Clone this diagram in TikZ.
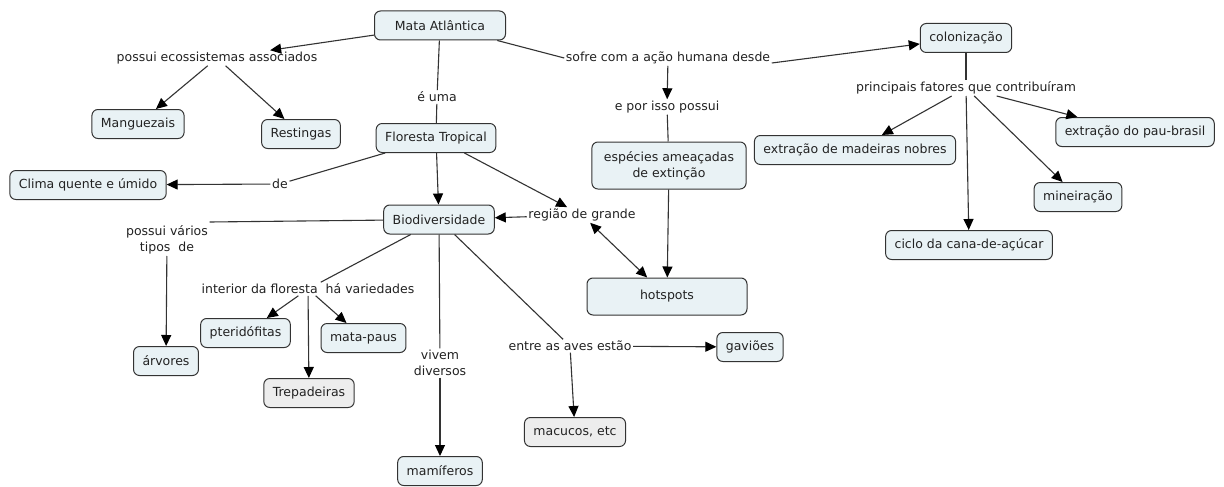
\documentclass[tikz,border=0pt]{standalone}
\usepackage{fontspec}
\setmainfont{DejaVu Sans}
\usetikzlibrary{arrows.meta}
\definecolor{conceito}{HTML}{E9F2F5}
\definecolor{cinza}{HTML}{EDEDED}
\definecolor{traco}{HTML}{333333}
\definecolor{letra}{HTML}{222222}
\tikzset{
  conc/.style={draw=traco,line width=1pt,rounded corners=6pt,fill=conceito,
    inner xsep=9pt,minimum height=29pt,align=center,text=letra,
    font=\fontsize{12.5}{16}\selectfont},
  frase/.style={inner sep=1.5pt,align=center,text=letra,
    font=\fontsize{12.5}{16}\selectfont},
  liga/.style={draw=traco,line width=1.1pt},
  seta/.style={liga,-{Triangle[length=11pt,width=10pt,color=black]}},
  dupla/.style={liga,{Triangle[length=11pt,width=10pt,color=black]}-{Triangle[length=11pt,width=10pt,color=black]}}
}
\begin{document}
\begin{tikzpicture}[x=1pt,y=-1pt]
\useasboundingbox[fill=white] (0,0) rectangle (1224,487);

\node[conc,minimum width=131pt] (mata) at (440,25.5) {Mata Atlântica};
\node[frase] (ecos) at (217,58) {possui ecossistemas associados};
\node[conc] (mang) at (138,124) {Manguezais};
\node[conc] (rest) at (301,134) {Restingas};
\node[frase] (euma) at (437,97) {é uma};
\node[conc] (flor) at (436,138) {Floresta Tropical};
\node[conc] (clima) at (88,185) {Clima quente e úmido};
\node[frase] (de) at (280,184) {de};
\node[conc] (bio) at (439,219.5) {Biodiversidade};
\node[frase] (regiao) at (582,215) {região de grande};
\node[conc,minimum width=160pt,minimum height=37pt] (hot) at (667,296.5) {hotspots};
\node[frase] (sofre) at (668,58) {sofre com a ação humana desde};
\node[conc] (colon) at (966,38) {colonização};
\node[frase] (porisso) at (667,107) {e por isso possui};
\node[conc,inner xsep=12pt,minimum height=47pt] (esp) at (669,165.5) {espécies ameaçadas\\de extinção};
\node[frase] (fatores) at (966,88) {principais fatores que contribuíram};
\node[conc] (madeira) at (855,150) {extração de madeiras nobres};
\node[conc] (paubr) at (1135,132) {extração do pau-brasil};
\node[conc] (miner) at (1078,197) {mineiração};
\node[conc] (cana) at (969,245) {ciclo da cana-de-açúcar};
\node[frase] (tipos) at (167,240) {possui vários\\tipos\ \ de};
\node[conc] (arv) at (166,361) {árvores};
\node[frase] (inter) at (308,289) {interior da floresta\ \ há variedades};
\node[conc] (pter) at (245.5,333) {pteridófitas};
\node[conc] (matapau) at (363.5,338) {mata-paus};
\node[conc,fill=cinza] (trep) at (309,393) {Trepadeiras};
\node[frase] (vivem) at (440,363) {vivem\\diversos};
\node[conc] (mam) at (440,471) {mamíferos};
\node[frase] (aves) at (570,346) {entre as aves estão};
\node[conc] (gav) at (750,347) {gaviões};
\node[conc,fill=cinza] (macuco) at (575,432) {macucos, etc};

\draw[seta] (mata) -- (ecos);
\draw[seta] (ecos) -- (mang);
\draw[seta] (ecos) -- (rest);
\draw[liga] (mata) -- (euma) -- (flor);
\draw[liga] (flor) -- (de);
\draw[seta] (de) -- (clima);
\draw[seta] (flor) -- (bio);
\draw[seta] (flor) -- (regiao);
\draw[seta] (regiao) -- (bio);
\draw[dupla] (regiao) -- (hot);
\draw[liga] (mata) -- (sofre.west);
\draw[seta] ([yshift=-5pt]sofre.east) -- (colon);
\draw[seta] (sofre) -- (porisso);
\draw[liga] (porisso) -- (esp);
\draw[seta] (esp) -- (hot);
\draw[liga] (colon) -- (fatores);
\draw[seta] (fatores) -- (madeira);
\draw[seta] (fatores) -- (cana);
\draw[seta] (fatores) -- (miner);
\draw[seta] (fatores) -- (paubr);
\draw[liga] (bio) -- ([yshift=2pt]tipos.north east);
\draw[seta] (tipos) -- (arv);
\draw[liga] (bio) -- (inter);
\draw[seta] (inter) -- (pter);
\draw[seta] (inter) -- (trep);
\draw[seta] (inter) -- (matapau);
\draw[liga] (bio) -- (vivem);
\draw[seta] (vivem) -- (mam);
\draw[liga] (bio) -- (aves);
\draw[seta] (aves) -- (gav);
\draw[seta] (aves) -- (macuco);
\end{tikzpicture}
\end{document}
